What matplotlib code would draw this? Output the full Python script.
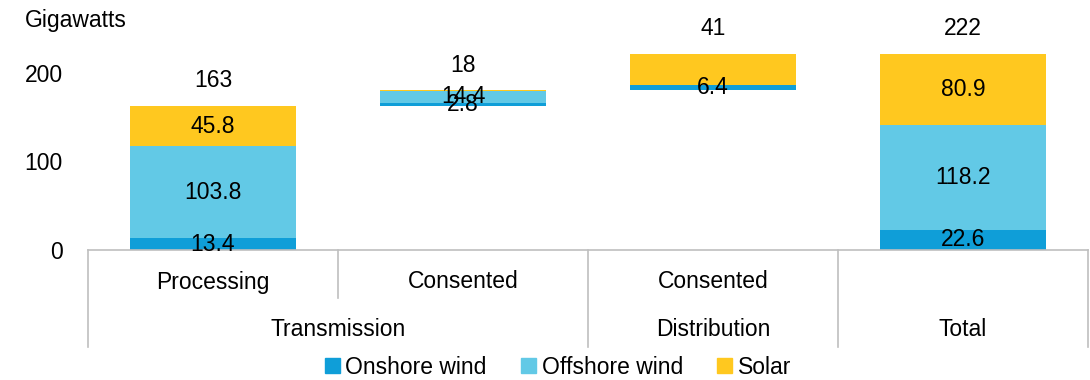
import matplotlib
matplotlib.use("Agg")
import matplotlib.pyplot as plt
import matplotlib.patches as mpatches
import numpy as np

plt.rcParams['font.family'] = ['Liberation Sans', 'DejaVu Sans']

# Data
stages = ['Processing', 'Consented', 'Consented', '']
groups = ['Transmission', 'Distribution', 'Total']
group_spans = [(0, 1), (2, 2), (3, 3)]
onshore = [13.4, 2.8, 6.4, 22.6]
offshore = [103.8, 14.4, 0.0, 118.2]
solar = [45.8, 0.4, 34.7, 80.9]
totals = [163, 18, 41, 222]
is_total = [False, False, False, True]
show_onshore = [True, True, True, True]
show_offshore = [True, True, False, True]
show_solar = [True, False, False, True]

# Colors
onshore_color = '#0F9ED8'
offshore_color = '#62C9E6'
solar_color = '#FFC81F'
line_color = '#BFBFBF'

W, H = 1090, 380
fig = plt.figure(figsize=(W / 100, H / 100), dpi=100)
ax = fig.add_axes([88 / W, 130 / H, 1000 / W, 245 / H])

x = np.arange(len(stages))
width = 0.665

# waterfall bases
bases = []
running = 0.0
for i in range(len(stages)):
    if is_total[i]:
        bases.append(0.0)
    else:
        bases.append(running)
        running += onshore[i] + offshore[i] + solar[i]
bases = np.array(bases)

on = np.array(onshore)
off = np.array(offshore)
sol = np.array(solar)

ax.bar(x, on, width, bottom=bases, color=onshore_color, label='Onshore wind')
ax.bar(x, off, width, bottom=bases + on, color=offshore_color, label='Offshore wind')
ax.bar(x, sol, width, bottom=bases + on + off, color=solar_color, label='Solar')

fs = 16.5
for i in range(len(stages)):
    if show_onshore[i]:
        ax.text(x[i], bases[i] + on[i] / 2, f'{on[i]:.1f}', ha='center', va='center', fontsize=fs)
    if show_offshore[i]:
        ax.text(x[i], bases[i] + on[i] + off[i] / 2, f'{off[i]:.1f}', ha='center', va='center', fontsize=fs)
    if show_solar[i]:
        ax.text(x[i], bases[i] + on[i] + off[i] + sol[i] / 2, f'{sol[i]:.1f}', ha='center', va='center', fontsize=fs)
    top = bases[i] + on[i] + off[i] + sol[i]
    ax.annotate(f'{totals[i]}', (x[i], top), xytext=(0, 18), textcoords='offset points',
                ha='center', va='center', fontsize=fs)

ax.set_xlim(-0.5, len(stages) - 0.5)
ax.set_ylim(0, 245 / 0.885)
ax.set_yticks([0, 100, 200])
ax.tick_params(axis='y', length=0, pad=18, labelsize=fs)
ax.set_xticks([])
for s in ['top', 'right', 'left']:
    ax.spines[s].set_visible(False)
ax.spines['bottom'].set_color(line_color)
ax.spines['bottom'].set_linewidth(1.2)

# multi-level category axis
tr = ax.get_xaxis_transform()
row1 = -48 / 245
row2 = -97 / 245
for i, name in enumerate(stages):
    if name:
        ax.text(x[i], -32 / 245, name, transform=tr, ha='center', va='center', fontsize=fs)
for (a, b), name in zip(group_spans, groups):
    ax.text((a + b) / 2, -80 / 245, name, transform=tr, ha='center', va='center', fontsize=fs)
# short separators between stages inside a group
for a, b in group_spans:
    for k in range(a, b):
        ax.plot([k + 0.5, k + 0.5], [0, row1], transform=tr, color=line_color, lw=1.2, clip_on=False)
# full separators between groups
edges = [group_spans[0][0] - 0.5] + [b + 0.5 for a, b in group_spans]
for e in edges:
    ax.plot([e, e], [0, row2], transform=tr, color=line_color, lw=1.2, clip_on=False)

fig.text(25 / W, 1 - 20 / H, 'Gigawatts', ha='left', va='center', fontsize=fs)

handles = [
    mpatches.Patch(color=onshore_color, label='Onshore wind'),
    mpatches.Patch(color=offshore_color, label='Offshore wind'),
    mpatches.Patch(color=solar_color, label='Solar'),
]
ax.legend(handles=handles, loc='center', bbox_to_anchor=(0.47, -117 / 245), ncol=3,
          frameon=False, fontsize=fs, handlelength=0.65, handleheight=0.65,
          handletextpad=0.25, columnspacing=1.5, borderaxespad=0)

fig.savefig('out.png', dpi=100, facecolor='white')
